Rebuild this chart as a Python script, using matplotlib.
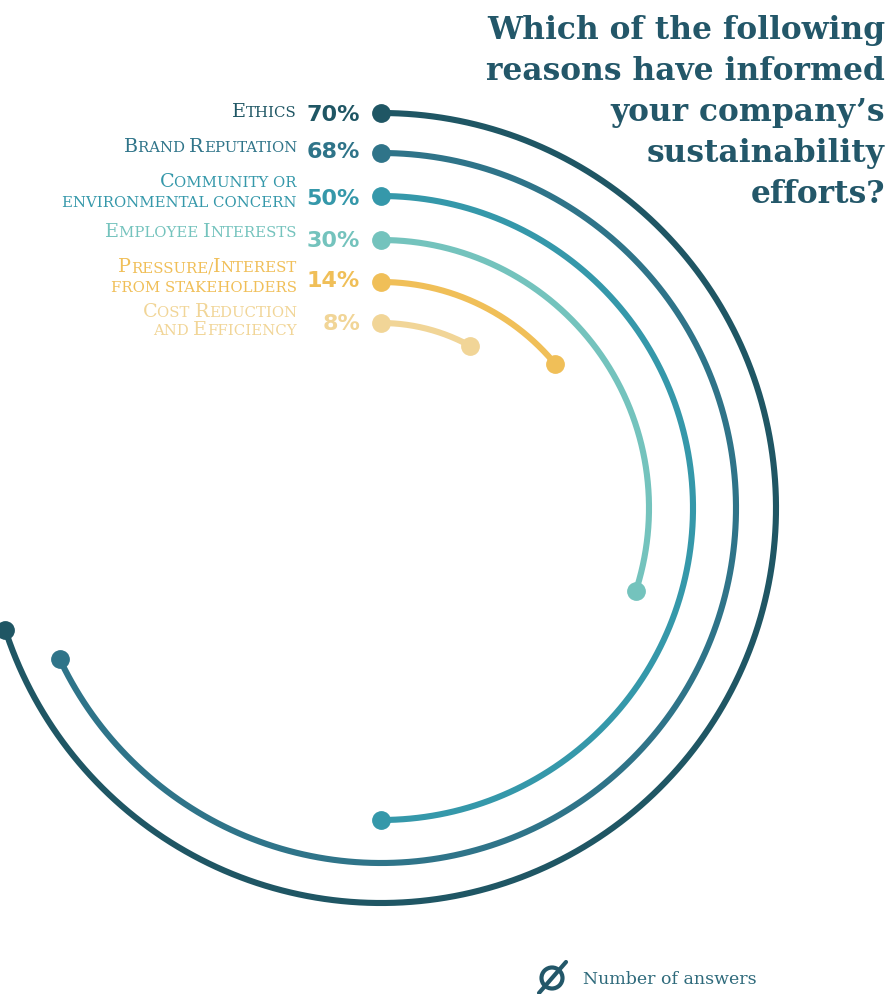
import numpy as np
import matplotlib
matplotlib.use("Agg")
import matplotlib.pyplot as plt
from matplotlib import transforms
from matplotlib.patches import Circle

# survey answers, outer ring first
reasons = [["Ethics"],
           ["Brand Reputation"],
           ["Community or", "environmental concern"],
           ["Employee Interests"],
           ["Pressure/Interest", "from stakeholders"],
           ["Cost Reduction", "and Efficiency"]]
shares = [70, 68, 50, 30, 14, 8]
colors = ["#1f5664", "#2f7489", "#3598aa", "#74c3bd", "#f0bf58", "#f1d597"]
title = "Which of the following\nreasons have informed\nyour company\u2019s\nsustainability\nefforts?"
note = "Number of answers"

# layout in pixels
W, H = 892, 994
cx, cy = 381, 508
radii = [395, 355, 312, 268, 226, 185]
label_base = [[117], [152], [187, 207], [237], [272, 292], [317, 335]]
pct_base = [121, 158, 205, 247, 287, 330]
dark = "#235769"

fig = plt.figure(figsize=(W / 100, H / 100), dpi=100)
ax = fig.add_axes([0, 0, 1, 1])
ax.set_xlim(0, W)
ax.set_ylim(H, 0)
ax.axis("off")
renderer = fig.canvas.get_renderer()


def smallcaps(x, y, s, size, color):
    # right-aligned fake small caps: lowercase letters drawn as smaller capitals
    runs = []
    for ch in s:
        small = not ch.isupper()
        if runs and runs[-1][1] == small:
            runs[-1][0] += ch
        else:
            runs.append([ch, small])
    off = 0
    for txt, small in reversed(runs):
        tr = transforms.offset_copy(ax.transData, fig, x=-off, y=0, units="dots")
        t = ax.text(x, y, txt.upper(), fontsize=size * (0.78 if small else 1),
                    family="DejaVu Serif", color=color, ha="right", va="baseline",
                    transform=tr)
        off += t.get_window_extent(renderer).width


for i, (lines, p, c) in enumerate(zip(reasons, shares, colors)):
    r = radii[i]
    th = np.radians(np.linspace(0, 360 * p / 100, 400))
    xs = cx + r * np.sin(th)
    ys = cy - r * np.cos(th)
    ax.plot(xs, ys, color=c, lw=4.4, solid_capstyle="butt", zorder=2)
    ax.plot([xs[0], xs[-1]], [ys[0], ys[-1]], "o", color=c, ms=12.5, zorder=3)
    ax.text(360, pct_base[i], f"{p}%", fontsize=16, fontweight="bold",
            family="DejaVu Sans", color=c, ha="right", va="baseline")
    for ln, yb in zip(lines, label_base[i]):
        smallcaps(297, yb, ln, 13.8, c)

ax.text(885, 15, title, fontsize=22.5, fontweight="bold", family="DejaVu Serif",
        color=dark, ha="right", va="top", linespacing=1.42)

# empty-set style marker for the legend note
ax.add_patch(Circle((552, 978), 10.5, fill=False, ec=dark, lw=3))
ax.plot([539, 566], [993, 962], color=dark, lw=3, solid_capstyle="round")
ax.text(583, 984, note, fontsize=12.5, family="DejaVu Serif", color="#2e6a7b",
        ha="left", va="baseline")

fig.savefig("out.png", dpi=100)
